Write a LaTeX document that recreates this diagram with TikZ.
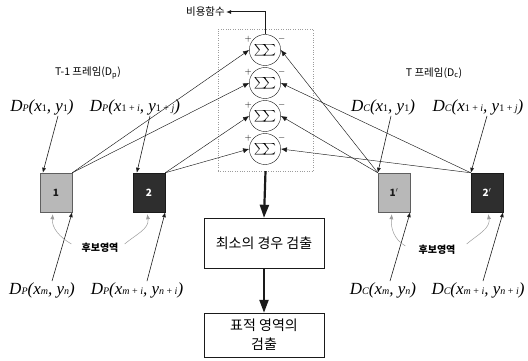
\documentclass[tikz,border=0pt]{standalone}
\usepackage{fontspec}
\setmainfont{Liberation Serif}
\newfontfamily\kr{Noto Sans CJK KR}
\usetikzlibrary{arrows.meta,positioning,shapes.geometric}
\definecolor{ink}{HTML}{1A1A1A}
\definecolor{lightbox}{HTML}{B8B8B8}
\definecolor{darkbox}{HTML}{2E2E2E}
\definecolor{muted}{HTML}{9C9C9C}
\newcommand{\idx}[1]{\raisebox{-0.5pt}{\fontsize{10}{10}\selectfont #1}}
\newcommand{\dblsum}{\scalebox{1.25}[1.15]{$\sum\!\!\!\sum$}}
\tikzset{
  sumc/.style={draw=ink, ellipse, minimum width=27pt, minimum height=31pt, inner sep=0pt},
  sgn/.style={font=\fontsize{9}{9}\selectfont\bfseries, inner sep=0pt, label distance=-1pt},
  frm/.style={draw=ink, minimum width=32pt, minimum height=39pt, inner sep=0pt,
              font=\kr\bfseries\fontsize{10}{10}\selectfont},
  lfrm/.style={frm, fill=lightbox, draw=ink!70, text=ink},
  dfrm/.style={frm, fill=darkbox, text=white},
  proc/.style={draw=ink, align=center, font=\kr\fontsize{14}{19}\selectfont,
               minimum width=120pt, inner sep=2pt},
  dlbl/.style={font=\fontsize{17}{17}\selectfont\itshape, inner sep=1pt},
  klbl/.style={font=\kr\fontsize{10.5}{12}\selectfont, inner sep=1pt},
  arr/.style={-{Latex[length=5pt,width=4pt]}, draw=ink, line width=0.6pt},
  sarr/.style={-{Latex[length=6pt,width=5pt]}, draw=ink, line width=0.45pt},
  thk/.style={-{Triangle[length=13pt,width=9pt]}, draw=ink, line width=2.2pt},
  garr/.style={-{Latex[length=5pt,width=4pt]}, draw=muted, line width=0.5pt},
}
\begin{document}
\begin{tikzpicture}[x=1pt, y=1pt]
  \useasboundingbox (0,0) rectangle (528,-361);
  % summing stage
  \node[draw=muted, dotted, minimum width=95pt, minimum height=142pt] (sumframe) at (265.5,-100) {};
  \foreach \k/\yy in {1/50, 2/83, 3/116, 4/149}
    \node[sumc, label={[sgn]150:$+$}, label={[sgn]30:$-$}] (c\k) at (265,-\yy) {\dblsum};
  \node[klbl, anchor=east] (cost) at (226,-12) {비용함수};
  \draw[arr, line width=1pt] (c1.north) |- (cost.east);
  % candidate blocks
  \node[lfrm] (b1) at (56,-192.5) {1};
  \node[dfrm] (b2) at (149,-192.5) {2};
  \node[lfrm] (b1c) at (394,-192.5) {1$'$};
  \node[dfrm] (b2c) at (487,-192.5) {2$'$};
  \node[klbl] (prev) at (88,-73) {T-1 프레임(D\textsubscript{p})};
  \node[klbl] (curr) at (434,-73) {T 프레임(D\textsubscript{c})};
  \node[dlbl] (lp1) at (42,-107) {D\idx{P}(x\idx{\upshape 1}, y\idx{\upshape 1})};
  \node[dlbl] (lp2) at (135,-107) {D\idx{P}(x\idx{\upshape 1 + \itshape i}, y\idx{\upshape 1 + \itshape j})};
  \node[dlbl] (lc1) at (383,-107) {D\idx{C}(x\idx{\upshape 1}, y\idx{\upshape 1})};
  \node[dlbl] (lc2) at (478,-107) {D\idx{C}(x\idx{\upshape 1 + \itshape i}, y\idx{\upshape 1 + \itshape j})};
  \node[dlbl] (bp1) at (42,-290) {D\idx{P}(x\idx{m}, y\idx{n})};
  \node[dlbl] (bp2) at (137,-290) {D\idx{P}(x\idx{m \upshape + \itshape i}, y\idx{n \upshape + \itshape i})};
  \node[dlbl] (bc1) at (383,-290) {D\idx{C}(x\idx{m}, y\idx{n})};
  \node[dlbl] (bc2) at (478,-290) {D\idx{C}(x\idx{m \upshape + \itshape i}, y\idx{n \upshape + \itshape i})};
  \draw[arr] ([xshift=16pt]lp1.south) -- ([xshift=3pt]b1.north west);
  \draw[arr] ([xshift=15pt]lp2.south) -- ([xshift=4pt]b2.north west);
  \draw[arr] ([xshift=8pt]lc1.south) -- (b1c.north west);
  \draw[arr] ([xshift=9pt]lc2.south) -- (b2c.north west);
  \draw[arr] ([xshift=10pt]bp1.north) -- (b1.south east);
  \draw[arr] ([xshift=10pt]bp2.north) -- (b2.south east);
  \draw[arr] ([xshift=7pt]bc1.north) -- (b1c.south east);
  \draw[arr] ([xshift=5pt]bc2.north) -- (b2c.south east);
  % candidate regions
  \node[klbl, font=\kr\bfseries\fontsize{10}{12}\selectfont] (candp) at (100,-248) {후보영역};
  \node[klbl, font=\kr\bfseries\fontsize{10}{12}\selectfont] (candc) at (437,-250) {후보영역};
  \draw[garr] ([xshift=-9pt,yshift=4pt]candp.west) to[out=150, in=-95] ([xshift=13pt,yshift=-2pt]b1.south west);
  \draw[garr] ([xshift=5pt,yshift=4pt]candp.east) to[out=40, in=-80] ([xshift=-18pt,yshift=-2pt]b2.south east);
  \draw[garr] ([xshift=-12pt,yshift=4pt]candc.west) to[out=150, in=-95] ([xshift=14pt,yshift=-2pt]b1c.south west);
  \draw[garr] ([xshift=10pt,yshift=6pt]candc.east) to[out=40, in=-80] ([xshift=-15pt,yshift=-2pt]b2c.south east);
  % differences into the sums
  \draw[sarr] (b1.north east) -- (c1.west);
  \draw[sarr] (b1.north east) -- (c2.west);
  \draw[sarr] (b2.north east) -- (c3.west);
  \draw[sarr] (b2.north east) -- (c4.west);
  \draw[sarr] (b1c.north west) -- (c1.east);
  \draw[sarr] (b1c.north west) -- (c3.east);
  \draw[sarr] (b2c.north west) -- (c2.east);
  \draw[sarr] (b2c.north west) -- (c4.east);
  % decision
  \node[proc, minimum height=50pt] (minc) at (264,-243) {최소의 경우 검출};
  \node[proc, minimum height=44pt] (target) at (264,-335) {표적 영역의\\검출};
  \draw[thk] (sumframe.south) -- (minc.north);
  \draw[thk] (minc.south) -- (target.north);
\end{tikzpicture}
\end{document}
